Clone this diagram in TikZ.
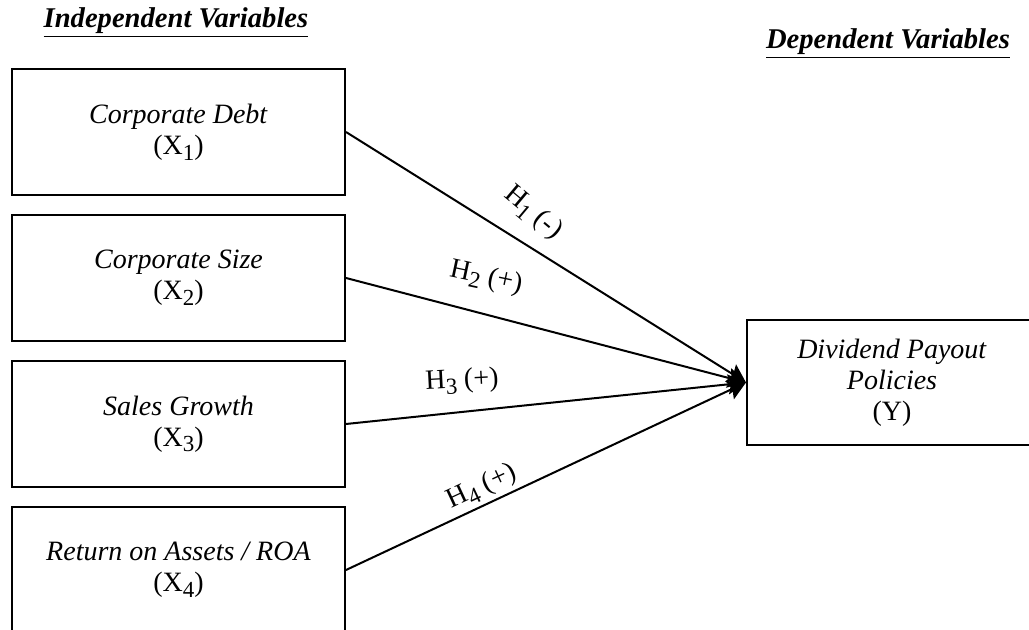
\documentclass[tikz,border=0pt]{standalone}
\usepackage{fontspec}
\setmainfont{Liberation Serif}
\usetikzlibrary{arrows.meta}
\newcommand\lowsub[1]{\raisebox{-0.45ex}{\fontsize{11.5}{11.5}\selectfont#1}}

\begin{document}
\begin{tikzpicture}[x=0.5pt,y=-0.5pt,>={Stealth[length=9pt,width=10pt,inset=1.5pt]},node distance=73pt,
    var/.style={draw,line width=1pt,minimum width=166.5pt,minimum height=63pt,align=center,font=\fontsize{14}{15.5}\selectfont},
    hyp/.style={font=\fontsize{14}{15}\selectfont},
    heading/.style={font=\fontsize{14.3}{16}\selectfont\bfseries\itshape}]
    \useasboundingbox (0,0) rectangle (1029,630);

    \node[heading] (ind) at (176,23) {\underline{Independent Variables}};
    \node[heading] (dep) at (888,44) {\underline{Dependent Variables}};

    \node[var] (x1) at (178.5,132) {\textit{Corporate Debt}\\(X\lowsub{1})};
    \node[var] (x2) [below of=x1] {\textit{Corporate Size}\\(X\lowsub{2})};
    \node[var] (x3) [below of=x2] {\textit{Sales Growth}\\(X\lowsub{3})};
    \node[var] (x4) [below of=x3] {\textit{Return on Assets / ROA}\\(X\lowsub{4})};
    \node[var,minimum width=145pt,minimum height=62.5pt] (y) at (892,382.5) {\textit{Dividend Payout}\\\textit{Policies}\\(Y)};

    \path[->,line width=1pt] (x1.east) edge (y.west);
    \path[->,line width=1pt] (x2.east) edge (y.west);
    \path[->,line width=1pt] (x3.east) edge (y.west);
    \path[->,line width=1pt] (x4.east) edge (y.west);

    \node[hyp,rotate=-40] (h1) at (533,213) {H\lowsub{1} (-)};
    \node[hyp,rotate=-12] (h2) at (486,278) {H\lowsub{2} (+)};
    \node[hyp,rotate=3] (h3) at (462,381) {H\lowsub{3} (+)};
    \node[hyp,rotate=25] (h4) at (482,487) {H\lowsub{4} (+)};
\end{tikzpicture}
\end{document}
